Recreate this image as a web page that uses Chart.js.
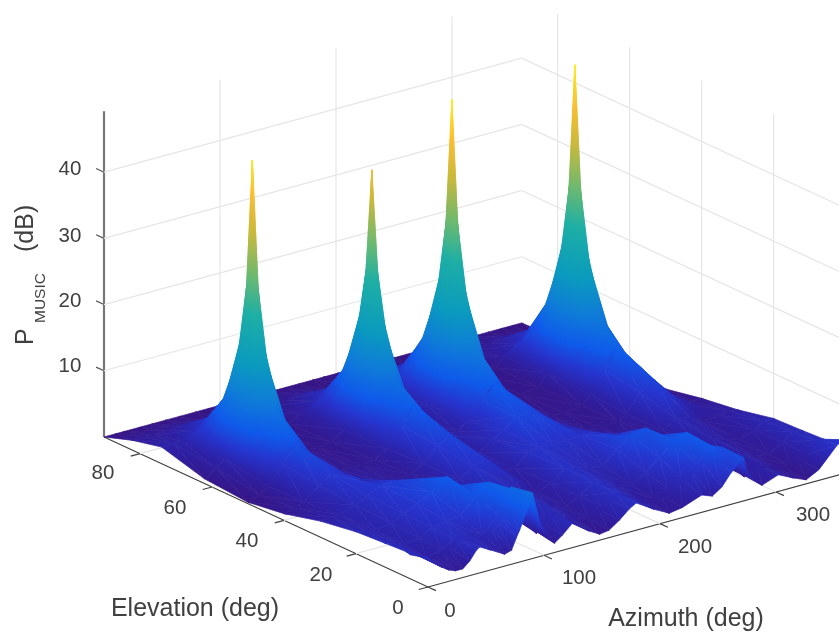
<!DOCTYPE html>
<html><head><meta charset="utf-8">
<style>html,body{margin:0;padding:0;background:#fff}canvas{display:block}</style>
<script src="https://cdn.jsdelivr.net/npm/chart.js@4/dist/chart.umd.js"></script>
</head><body><canvas id="c" width="839" height="635"></canvas>
<script>
// ---- tick labels ----
const azimuthTicks=[0,100,200,300];
const elevationTicks=[0,20,40,60,80];
const powerTicks=[10,20,30,40];
// ---- front strip of the surface, elevation 0 to 6 (dB) ----
const azFront=[0,6,12,18,24,30,36,42,44.7,54,66,72,76.5,79,85,90,96,102,109,116,124.6,139,148,156,165,173.5,179.5,195,208,219,236,245,253.4,261,272,274,281,288,302,315,326,337,353,360];
const elFront=[0,6];
const zFront=[
[4.4,3.3,2.4,1.7,1.3,1.3,2.2,3.6,3.9,3,1.8,2.1,3.9,4.8,7.3,9.9,5.5,3,1.4,2.3,3.7,1.8,.9,1.1,2.2,3.5,4.1,2.4,1.2,1.5,2.6,2,3,4.7,6.5,4.6,2.7,1.6,2.5,1.4,.6,1.6,4.6,5],
[3.8,3.3,2.8,2.3,2.1,2.3,2.9,3.7,3.8,3.6,3.3,4.2,5,5.6,7.6,9.3,7,4.5,2,2.8,3.6,2.4,1.5,1.6,2.4,3.6,4.2,2.8,1.6,2,3.6,4.4,5.6,7.4,6.6,5.8,3.4,1.9,2.5,1.6,1,1.8,3.9,3.6]
];
// ---- base surface (dB) ----
const azBase=[0,10,17,30,41,53,65,79,90,97,109,120,132,144,156,168,180,189,201,213,225,237,250,261,272,288,295,307,319,331,343,352,360];
const elBase=[5,6,12,20,30,40,50,62,74,82,90];
const zBase=[
[3.6,2.8,2,2.4,3.6,3.4,3,5.3,8.8,6.3,1.6,2.8,3.2,1.8,1.4,2.6,4,3.2,1.8,1.4,2.4,3.4,4.8,7.3,5.8,1.6,1.8,2.2,1,.8,2.2,3.6,3.4],
[3.8,3,2.2,2.6,3.8,3.6,3.2,5.5,9,6.5,1.8,3,3.4,2,1.6,2.8,4.2,3.4,2,1.6,2.6,3.6,5,7.5,6,1.8,2,2.4,1.2,1,2.4,3.8,3.6],
[3.6,3.1,2.6,3,4,4.4,4.8,7,8.5,6,2.4,3,3.6,2.4,1.7,2.7,4.2,3.7,2.6,2.2,3.6,5.2,7.2,7.8,4.6,1.9,2,2.6,1.5,1.2,2.4,3.5,3.4],
[3.3,3,2.7,3.2,4.1,5,6.2,7.8,6,4.6,2.6,3,3.8,2.8,1.8,2.6,4.2,4,3.2,3.2,5,6.5,7,5.4,3,1.8,2,2.8,2,1.4,2.3,3.2,3.2],
[2.4,2.5,2.6,3.4,4.3,5.2,5.4,4.6,3.4,2.8,2.2,3,4.4,4.8,2.4,2.4,4.2,4.6,4.4,4.4,4.6,4.4,3.4,2.4,1.6,1.4,2,3.2,2.8,1.6,2,2.2,2],
[1,1.4,2,3.8,5,4.4,3,2.2,1.8,1.6,1.7,2.8,5,6,3.6,2.2,3.6,4.6,6,6.4,5,3.2,2,1.2,1,1.2,2,4.6,6,3.4,1.3,1.2,1.2],
[.2,.8,1.8,4.6,7,5.2,2.2,1.4,1.2,1.2,1.4,2.6,5.6,8,5.4,2.4,2.2,3.4,6,8,5.6,3,1.4,.8,.7,1,2.4,5.6,8.5,5.4,2,.4,.1],
[.7,1.8,3,3,3.5,3,2.6,1.3,.9,.8,1.1,2.4,3,3.5,3,2.6,2.4,3.2,3,3.5,3,3.4,1.2,.6,.5,.8,2.6,3,3.5,3,2.8,1,.4],
[2.5,2.6,2.6,3.6,5,3.6,2.2,1,.7,.6,.8,1.8,3.2,4.4,3,1.8,1.6,2.4,3.8,5,3.6,2.4,.9,.5,.4,.7,2,3.4,5,3.2,1.8,.8,.3],
[1.5,1.5,1.5,1.6,1.8,1.5,1.2,.6,.4,.4,.5,.9,1.3,1.6,1.3,.9,.8,1,1.5,1.8,1.4,1,.5,.3,.3,.4,.9,1.4,1.8,1.3,.8,.4,.2],
[0,0,0,0,0,0,0,0,0,0,0,0,0,0,0,0,0,0,0,0,0,0,0,0,0,0,0,0,0,0,0,0,0]
];
// ---- fine patches round the four peaks (dB) ----
const elPeak=[50,56,59.5,61,62,63,64.5,68,74];
const azPeak1=[17,29,36,39,41,43,46,53,65];
const zPeak1=[
[1.8,4.6,6,6.7,7,6.7,6.2,5.2,2.2],
[2.5,7,10,10.8,11,10.8,10,7.2,2.6],
[2.9,10.5,16.5,19.5,20,19.5,16.5,10.5,2.8],
[3,11.2,19.8,27.5,30,27.5,19.8,11.2,2.7],
[3,11.4,20.5,30.5,46.9,30.5,20.5,11.4,2.6],
[2.9,11.2,19.8,27.5,30,27.5,19.8,11.2,2.5],
[2.9,10.3,16.5,19.5,20,19.5,16.5,10.3,2.4],
[2.8,7.2,9.6,10.4,10.6,10.4,9.6,7,2.3],
[2.6,3.6,4.4,4.8,5,4.8,4.4,3.6,2.2]];
const azPeak2=[120,132,139,142,144,146,149,156,168];
const zPeak2=[
[2.6,5.6,7.2,7.8,8,7.8,7.2,5.4,2.4],
[2.6,7,9.6,10.4,10.6,10.4,9.6,7,2.5],
[2.6,10,15.5,18.5,19,18.5,15.5,10,2.6],
[2.5,10.8,18.5,25,27,25,18.5,10.8,2.6],
[2.4,11,19,27.5,40.5,27.5,19,11,2.6],
[2.4,10.8,18.5,25,27,25,18.5,10.8,2.5],
[2.3,9.8,15.5,18.5,19,18.5,15.5,9.8,2.4],
[2.1,6.8,9,9.8,10,9.8,9,6.6,2.2],
[1.8,3.2,3.9,4.3,4.4,4.2,3.8,3,1.8]];
const azPeak3=[189,201,208,211,213,215,218,225,237];
const zPeak3=[
[3.4,6,7.4,7.9,8,7.9,7.2,5.6,3],
[3.4,8,11,12,12.2,12,11,8,3.2],
[3.4,11.5,18,21,21.5,21,18,11.5,3.4],
[3.3,12.5,21.5,29,32,29,21.5,12.5,3.4],
[3.2,12.8,22.5,33,47.8,33,22.5,12.8,3.4],
[3.2,12.5,21.5,29,32,29,21.5,12.5,3.3],
[3,11.4,18,21,21.5,21,18,11.4,3.1],
[2.8,8,10.6,11.6,11.8,11.6,10.6,8,2.8],
[2.4,3.8,4.6,4.9,5,4.8,4.4,3.6,2.4]];
const azPeak4=[295,307,314,317,319,321,324,331,343];
const zPeak4=[
[2.4,5.6,7.6,8.2,8.5,8.2,7.4,5.4,2],
[2.6,8,11,12,12.2,12,11,8,2.4],
[2.7,11.5,18,21,21.5,21,18,11.5,2.8],
[2.7,12.5,21.5,29,32,29,21.5,12.5,2.8],
[2.6,12.8,22.5,33,48,33,22.5,12.8,2.8],
[2.6,12.5,21.5,29,32,29,21.5,12.5,2.7],
[2.5,11.4,18,21,21.5,21,18,11.4,2.6],
[2.4,8,10.6,11.6,11.8,11.6,10.6,8,2.4],
[2,3.4,4.6,4.9,5,4.8,4.3,3.2,1.8]];
// ---- colour map ----
const cmapAt=[0,.05,.1,.16,.25,.35,.5,.62,.75,.87,1];
const cmapRGB=[[55,20,130],[45,32,165],[38,52,205],[15,90,235],[15,125,215],[10,155,190],[30,175,165],[110,185,110],[200,185,60],[250,190,50],[250,240,30]];
const zColourMax=48;

// ---- 3-D view: floor position + height mapped to the chart's x / y scales ----
const view={x0:428,y0:587,xAz:1.16,yAz:.3167,xEl:3.6,yEl:1.667,yZ:6.62,azMax:360,elMax:90,zTop:49.2};
const px=(a,e)=>view.x0+view.xAz*a-view.xEl*e;
const py=(a,e,z)=>view.y0-view.yAz*a-view.yEl*e-view.yZ*z;
const floorDepth=(a,e)=>view.yAz*a+view.yEl*e;
function colourOf(z){
  const t=Math.max(0,Math.min(1,z/zColourMax));
  let i=0; while(i<cmapAt.length-2&&t>cmapAt[i+1])i++;
  const f=(t-cmapAt[i])/(cmapAt[i+1]-cmapAt[i]);
  const c=cmapRGB[i].map((v,k)=>Math.round(v+(cmapRGB[i+1][k]-v)*f));
  return `rgb(${c[0]},${c[1]},${c[2]})`;
}
// ---- triangles ----
const tris=[];
function addTri(p,q,r,under){
  tris.push({pts:[p,q,r],depth:under!=null?under:floorDepth((p[0]+q[0]+r[0])/3,(p[1]+q[1]+r[1])/3)});
}
function addMesh(az,el,Z,under){
  for(let j=0;j<el.length-1;j++)for(let i=0;i<az.length-1;i++){
    const u=under?under(az[i],az[i+1],el[j],el[j+1]):null;
    const A=[az[i],el[j],Z[j][i]],B=[az[i+1],el[j],Z[j][i+1]],C=[az[i+1],el[j+1],Z[j+1][i+1]],D=[az[i],el[j+1],Z[j+1][i]];
    if(Math.abs(A[2]-C[2])>=Math.abs(B[2]-D[2])){addTri(A,B,C,u);addTri(A,C,D,u);}
    else{addTri(A,B,D,u);addTri(B,C,D,u);}
  }
}
const patches=[[azPeak1,zPeak1],[azPeak2,zPeak2],[azPeak3,zPeak3],[azPeak4,zPeak4]];
// base cells beneath a finer patch are painted first, so the patch covers them
addMesh(azBase,elBase,zBase,(a0,a1,e0,e1)=>{
  if(e1<=elFront[1])return floorDepth(a1,elFront[1])+.5;
  const p=patches.find(p=>a0>=p[0][0]&&a1<=p[0][8]);
  return (p&&e0>=elPeak[0]&&e1<=elPeak[8])?floorDepth(p[0][8],elPeak[8])+1:null;
});
patches.forEach(p=>addMesh(p[0],elPeak,p[1]));
addMesh(azFront,elFront,zFront);
tris.sort((a,b)=>a.depth-b.depth);   // nearest first: Chart.js paints the first dataset last

function paintFor(chart,pts){
  const X=chart.scales.x,Y=chart.scales.y;
  const P=pts.map(p=>[X.getPixelForValue(px(p[0],p[1])),Y.getPixelForValue(py(p[0],p[1],p[2])),p[2]]);
  const zs=P.map(p=>p[2]),zmin=Math.min(...zs),zmax=Math.max(...zs);
  if(zmax-zmin<.02)return colourOf(zmin);
  const ax=P[1][0]-P[0][0],ay=P[1][1]-P[0][1],bx=P[2][0]-P[0][0],by=P[2][1]-P[0][1];
  const az=P[1][2]-P[0][2],bz=P[2][2]-P[0][2],det=ax*by-ay*bx;
  if(Math.abs(det)<.01)return colourOf((zmin+zmax)/2);
  const gx=(az*by-bz*ay)/det,gy=(ax*bz-bx*az)/det,g2=gx*gx+gy*gy;
  const s0=(zmin-P[0][2])/g2,s1=(zmax-P[0][2])/g2;
  const g=chart.ctx.createLinearGradient(P[0][0]+gx*s0,P[0][1]+gy*s0,P[0][0]+gx*s1,P[0][1]+gy*s1);
  g.addColorStop(0,colourOf(zmin));
  cmapAt.forEach(t=>{const z=t*zColourMax;if(z>zmin&&z<zmax)g.addColorStop((z-zmin)/(zmax-zmin),colourOf(z));});
  g.addColorStop(1,colourOf(zmax));
  return g;
}
const cached=(c)=>{
  const d=c.dataset,ch=c.chart;
  if(!ch.chartArea||!ch.scales.x||!Number.isFinite(ch.scales.x.getPixelForValue(100))||!Number.isFinite(ch.scales.y.getPixelForValue(100)))return colourOf(d.tri[0][2]);
  if(!d.paintCache)d.paintCache=paintFor(ch,d.tri);
  return d.paintCache;
};
const surfaceSets=tris.map(t=>({
  tri:t.pts,
  data:[...t.pts,t.pts[0]].map(p=>({x:px(p[0],p[1]),y:py(p[0],p[1],p[2])})),
  showLine:true,fill:'shape',pointRadius:0,tension:0,borderWidth:.7,
  backgroundColor:cached,borderColor:cached
}));
// ---- walls, floor grid, axes ----
const lineSets=[];
function seg(a0,e0,z0,a1,e1,z1,color,w){
  lineSets.push({data:[{x:px(a0,e0),y:py(a0,e0,z0)},{x:px(a1,e1),y:py(a1,e1,z1)}],showLine:true,pointRadius:0,borderColor:color,borderWidth:w,fill:false});
}
const gridC='#e6e6e6',V=view;
powerTicks.forEach(z=>{seg(0,V.elMax,z,V.azMax,V.elMax,z,gridC,1.2);seg(V.azMax,V.elMax,z,V.azMax,0,z,gridC,1.2);});
azimuthTicks.slice(1).forEach(a=>{seg(a,V.elMax,0,a,V.elMax,V.zTop,gridC,1.2);seg(a,0,0,a,V.elMax,0,gridC,1.2);});
elevationTicks.slice(1).forEach(e=>{seg(V.azMax,e,0,V.azMax,e,V.zTop,gridC,1.2);seg(0,e,0,V.azMax,e,0,gridC,1.2);});
seg(0,V.elMax,0,0,V.elMax,V.zTop,'#777777',2.2);
seg(0,0,0,0,V.elMax,0,'#404040',1.2);
seg(0,0,0,V.azMax,0,0,'#404040',1.2);
powerTicks.forEach(z=>seg(0,V.elMax,z,0,V.elMax+2.2,z,'#555',1.2));
elevationTicks.forEach(e=>seg(0,e,0,-8,e,0,'#404040',1.2));
azimuthTicks.forEach(a=>seg(a,0,0,a,-2.2,0,'#404040',1.2));

const azLabelAt={0:[450,611],100:[579,578],200:[695,547],300:[813,515]};
const elLabelAt={0:[398,608],20:[321,575],40:[247,541],60:[175,508],80:[103,473]};
const zLabelAt={10:[70,366],20:[70,301],30:[70,236],40:[70,169]};
const textPlugin={id:'labels3d',afterDraw(chart){
  const c=chart.ctx,X=chart.scales.x,Y=chart.scales.y;
  c.save();c.fillStyle='#404040';c.textAlign='center';c.textBaseline='middle';
  c.font='20.5px "Liberation Sans"';
  const put=(t,p)=>c.fillText(String(t),X.getPixelForValue(p[0]),Y.getPixelForValue(p[1]));
  azimuthTicks.forEach(a=>put(a,azLabelAt[a]));
  elevationTicks.forEach(e=>put(e,elLabelAt[e]));
  powerTicks.forEach(z=>put(z,zLabelAt[z]));
  c.font='25px "Liberation Sans"';
  put('Elevation (deg)',[195,609]);
  put('Azimuth (deg)',[686,619]);
  c.textAlign='left';c.textBaseline='alphabetic';
  const rot=(t,x,y,f)=>{c.save();c.translate(x,y);c.rotate(-Math.PI/2);c.font=f;c.fillText(t,0,0);c.restore();};
  rot('P',33,345,'25px "Liberation Sans"');
  rot('MUSIC',45,323,'15.5px "Liberation Sans"');
  rot('(dB)',33,252,'25px "Liberation Sans"');
  c.restore();
}};
new Chart(document.getElementById('c'),{
  type:'scatter',
  data:{datasets:[...surfaceSets,...lineSets]},
  options:{responsive:false,animation:false,events:[],parsing:false,
    layout:{padding:0},
    elements:{line:{tension:0}},
    plugins:{legend:{display:false},tooltip:{enabled:false},title:{display:false}},
    scales:{x:{type:'linear',min:0,max:839,display:false},y:{type:'linear',min:0,max:635,reverse:true,display:false}}
  },
  plugins:[textPlugin]
});
</script></body></html>
